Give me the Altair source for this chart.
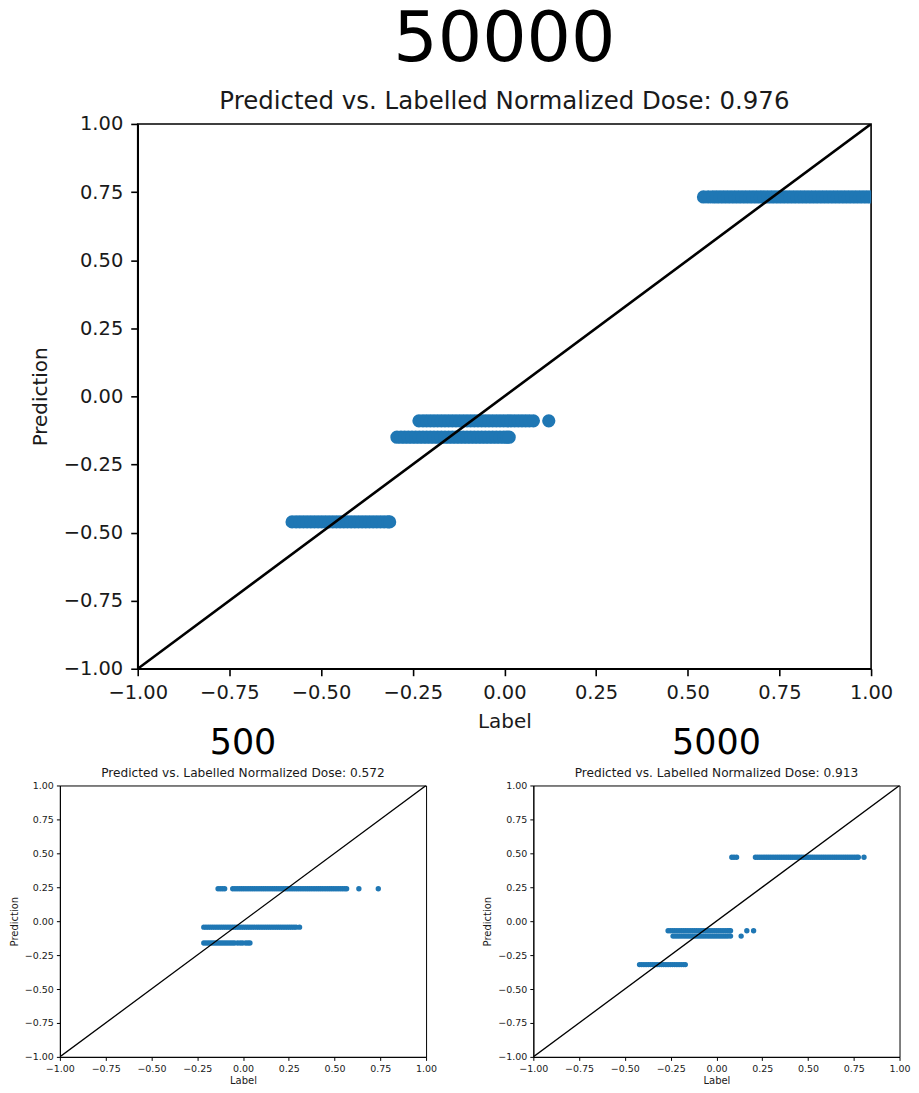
import altair as alt
import pandas as pd

FONT = "DejaVu Sans"
BLUE = "#1f77b4"
TXT = "#1a1a1a"

# ---------------- data ----------------
# panel "50000"
n50000_a_label = [0.543, 0.556, 0.568, 0.578, 0.588, 0.598, 0.608, 0.618, 0.628, 0.638, 0.648,
                  0.658, 0.668, 0.678, 0.688, 0.698, 0.708, 0.718, 0.728, 0.738, 0.748, 0.758,
                  0.768, 0.778, 0.788, 0.798, 0.808, 0.818, 0.828, 0.838, 0.848, 0.858, 0.868,
                  0.878, 0.888, 0.898, 0.908, 0.918, 0.928, 0.938, 0.948, 0.958, 0.968, 0.978,
                  0.988, 0.998]
n50000_a_pred = 0.732
n50000_b_label = [-0.233, -0.222, -0.212, -0.202, -0.192, -0.182, -0.172, -0.162, -0.152,
                  -0.142, -0.132, -0.122, -0.112, -0.102, -0.092, -0.082, -0.072, -0.062,
                  -0.052, -0.042, -0.032, -0.022, -0.012, -0.002, 0.008, 0.018, 0.028, 0.038,
                  0.048, 0.058, 0.068, 0.079, 0.121]
n50000_b_pred = -0.090
n50000_c_label = [-0.293, -0.282, -0.272, -0.262, -0.252, -0.242, -0.232, -0.222, -0.212,
                  -0.202, -0.192, -0.182, -0.172, -0.162, -0.152, -0.142, -0.132, -0.122,
                  -0.112, -0.102, -0.092, -0.082, -0.072, -0.062, -0.052, -0.042, -0.032,
                  -0.022, -0.012, -0.002, 0.006, 0.013]
n50000_c_pred = -0.150
n50000_d_label = [-0.579, -0.568, -0.558, -0.548, -0.538, -0.528, -0.518, -0.508, -0.498,
                  -0.488, -0.478, -0.468, -0.458, -0.448, -0.438, -0.428, -0.418, -0.408,
                  -0.398, -0.388, -0.378, -0.368, -0.358, -0.348, -0.338, -0.328, -0.318, -0.313]
n50000_d_pred = -0.461

# panel "500"
n500_e_label = [-0.136, -0.124, -0.112, -0.100, -0.056, -0.044, -0.032, -0.020, -0.008, 0.004,
                0.016, 0.028, 0.040, 0.052, 0.064, 0.076, 0.088, 0.100, 0.112, 0.124, 0.136,
                0.148, 0.160, 0.172, 0.184, 0.196, 0.208, 0.220, 0.232, 0.244, 0.256, 0.268,
                0.280, 0.292, 0.304, 0.316, 0.328, 0.340, 0.352, 0.364, 0.376, 0.388, 0.400,
                0.412, 0.424, 0.436, 0.448, 0.460, 0.472, 0.484, 0.496, 0.508, 0.520, 0.532,
                0.544, 0.556, 0.566, 0.633, 0.739]
n500_e_pred = 0.239
n500_f_label = [-0.214, -0.202, -0.190, -0.178, -0.166, -0.154, -0.142, -0.130, -0.118, -0.106,
                -0.094, -0.082, -0.070, -0.058, -0.046, -0.034, -0.022, -0.010, 0.002, 0.014,
                0.026, 0.038, 0.050, 0.062, 0.074, 0.086, 0.098, 0.110, 0.122, 0.134, 0.146,
                0.158, 0.170, 0.182, 0.194, 0.206, 0.218, 0.230, 0.242, 0.254, 0.266, 0.278,
                0.290, 0.309]
n500_f_pred = -0.044
n500_g_label = [-0.214, -0.202, -0.190, -0.178, -0.166, -0.154, -0.142, -0.130, -0.118, -0.106,
                -0.094, -0.082, -0.070, -0.058, -0.046, -0.029, -0.015, -0.002, 0.015, 0.027,
                0.038]
n500_g_pred = -0.161

# panel "5000"
n5000_h_label = [0.084, 0.096, 0.110, 0.213, 0.225, 0.237, 0.249, 0.261, 0.273, 0.285, 0.297,
                 0.309, 0.321, 0.333, 0.345, 0.357, 0.369, 0.381, 0.393, 0.405, 0.417, 0.429,
                 0.441, 0.453, 0.465, 0.477, 0.489, 0.501, 0.513, 0.525, 0.537, 0.549, 0.561,
                 0.573, 0.585, 0.597, 0.609, 0.621, 0.633, 0.645, 0.657, 0.669, 0.681, 0.693,
                 0.705, 0.717, 0.729, 0.741, 0.753, 0.765, 0.775, 0.806]
n5000_h_pred = 0.471
n5000_i_label = [-0.264, -0.252, -0.240, -0.228, -0.216, -0.204, -0.192, -0.180, -0.168,
                 -0.156, -0.144, -0.132, -0.120, -0.108, -0.096, -0.084, -0.072, -0.060,
                 -0.048, -0.036, -0.024, -0.012, 0.000, 0.012, 0.024, 0.036, 0.048, 0.060,
                 0.070, 0.077, 0.166, 0.203]
n5000_i_pred = -0.071
n5000_j_label = [-0.237, -0.225, -0.213, -0.201, -0.189, -0.177, -0.165, -0.153, -0.141,
                 -0.129, -0.117, -0.105, -0.093, -0.081, -0.069, -0.057, -0.045, -0.033,
                 -0.021, -0.009, 0.003, 0.015, 0.027, 0.039, 0.051, 0.063, 0.077, 0.135]
n5000_j_pred = -0.110
n5000_k_label = [-0.420, -0.408, -0.396, -0.384, -0.372, -0.360, -0.348, -0.336, -0.324,
                 -0.312, -0.300, -0.288, -0.276, -0.264, -0.252, -0.240, -0.228, -0.216,
                 -0.204, -0.192, -0.180, -0.170]
n5000_k_pred = -0.320

diag_label = [-1.0, 1.0]
diag_pred = [-1.0, 1.0]
tick_values = [-1.0, -0.75, -0.5, -0.25, 0.0, 0.25, 0.5, 0.75, 1.0]

panel_names = ["50000", "500", "5000"]
panel_scores = ["0.976", "0.572", "0.913"]


def build_df(groups):
    rows = []
    for xs, y in groups:
        for x in xs:
            rows.append({"Label": x, "Prediction": y})
    return pd.DataFrame(rows)


diag_df = pd.DataFrame({"Label": diag_label, "Prediction": diag_pred})


def panel(df, name, score, w, h, s):
    ax = dict(values=tick_values, format=".2f", grid=False,
              domainColor="black", domainWidth=s["spine"],
              tickColor="black", tickWidth=s["spine"], tickSize=s["tick"],
              labelFont=FONT, labelFontSize=s["tickfont"], labelColor=TXT,
              titleFont=FONT, titleFontSize=s["titlefont"], titleFontWeight="normal",
              titleColor=TXT, labelPadding=s["lpad"], labelFlush=False,
              labelOverlap=False)
    sc = alt.Scale(domain=[-1, 1], nice=False, zero=False)
    x = alt.X("Label:Q", scale=sc, axis=alt.Axis(title="Label", titlePadding=s["xtpad"], **ax))
    y = alt.Y("Prediction:Q", scale=sc, axis=alt.Axis(title="Prediction", titlePadding=s["ytpad"], **ax))
    pts = alt.Chart(df).mark_circle(size=s["pt"], color=BLUE, opacity=1, clip=True).encode(x=x, y=y)
    line = alt.Chart(diag_df).mark_line(color="black", strokeWidth=s["line"], clip=True).encode(x=x, y=y)
    return alt.layer(pts, line).properties(
        width=w, height=h,
        view=alt.ViewBackground(stroke="black", strokeWidth=s["spine"]),
        title=alt.TitleParams(
            text=name,
            subtitle="Predicted vs. Labelled Normalized Dose: " + score,
            font=FONT, fontSize=s["big"], fontWeight="normal", color="black",
            subtitleFont=FONT, subtitleFontSize=s["sub"], subtitleColor=TXT,
            subtitlePadding=s["subpad"], offset=s["toff"],
            anchor="middle", frame="group"),
    )


big_style = dict(spine=1.6, tick=7, tickfont=19.5, titlefont=20, lpad=8, xtpad=9, ytpad=13,
                 pt=177, line=2.6, big=70, sub=24.5, subpad=15, toff=-1)
small_style = dict(spine=1.0, tick=3.5, tickfont=9.5, titlefont=10, lpad=3, xtpad=3, ytpad=5,
                   pt=29, line=1.3, big=35, sub=12.2, subpad=6, toff=1)

df_top = build_df([(n50000_a_label, n50000_a_pred), (n50000_b_label, n50000_b_pred),
                   (n50000_c_label, n50000_c_pred), (n50000_d_label, n50000_d_pred)])
df_500 = build_df([(n500_e_label, n500_e_pred), (n500_f_label, n500_f_pred),
                   (n500_g_label, n500_g_pred)])
df_5000 = build_df([(n5000_h_label, n5000_h_pred), (n5000_i_label, n5000_i_pred),
                    (n5000_j_label, n5000_j_pred), (n5000_k_label, n5000_k_pred)])

top = panel(df_top, panel_names[0], panel_scores[0], 735, 546, big_style)
bl = panel(df_500, panel_names[1], panel_scores[1], 367, 272, small_style)
br = panel(df_5000, panel_names[2], panel_scores[2], 367, 272, small_style)

# invisible 1px cell that lets the large panel sit further right than the small one
spacer = alt.Chart(pd.DataFrame({"s": [0]})).mark_point(opacity=0, size=1).encode(
    x=alt.value(0), y=alt.value(0)
).properties(width=1, height=1, view=alt.ViewBackground(strokeWidth=0))

top_row = alt.hconcat(spacer, top, spacing=-32)
bottom = alt.hconcat(bl, br, spacing=43.5)

chart = alt.vconcat(top_row, bottom, spacing=-7).properties(
    padding={"left": 0, "top": -6, "right": 0, "bottom": 0},
    background="white",
)

chart.save("out.html", embed_options={"renderer": "svg", "actions": False})
